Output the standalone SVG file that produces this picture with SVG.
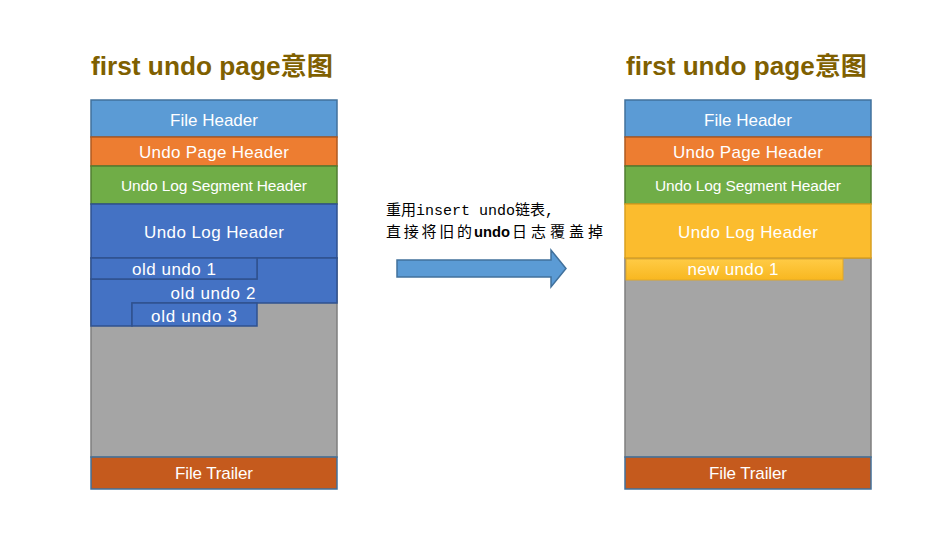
<svg xmlns="http://www.w3.org/2000/svg" width="927" height="545" viewBox="0 0 927 545">
<defs>
<style>
.t{font-family:"Liberation Sans","Noto Sans CJK SC",sans-serif;fill:#fff;text-anchor:middle;font-size:17px}
.title{font-family:"Liberation Sans","Noto Sans CJK SC",sans-serif;font-weight:bold;font-size:25px;fill:#7F6000}
.note{font-family:"Liberation Mono","Noto Sans CJK SC",monospace;font-size:15px;fill:#000}
.fh{fill:#5B9BD5;stroke:#41719C;stroke-width:1.5}
.ph{fill:#ED7D31;stroke:#AE5A21;stroke-width:1.5}
.sh{fill:#70AD47;stroke:#507E32;stroke-width:1.5}
.lh{fill:#4472C4;stroke:#2F528F;stroke-width:1.5}
.yh{fill:#FBBC2E;stroke:#D9A020;stroke-width:1.5}
.gr{fill:#A5A5A5;stroke:#7F7F7F;stroke-width:1.5}
.ft{fill:#C55A1D;stroke:#41719C;stroke-width:1.5}
</style>
<linearGradient id="ng" x1="0" y1="0" x2="0" y2="1">
<stop offset="0" stop-color="#FFCB45"/>
<stop offset="1" stop-color="#F8B720"/>
</linearGradient>
</defs>
<rect width="927" height="545" fill="#fff"/>

<g id="title-left"><text class="title" x="91" y="75" textLength="242" lengthAdjust="spacingAndGlyphs">first undo page意图</text></g>
<g id="title-right"><text class="title" x="626" y="75" textLength="241" lengthAdjust="spacingAndGlyphs">first undo page意图</text></g>

<g id="left-page">
<g id="l-gray"><rect class="gr" x="91" y="258" width="246" height="199"/></g>
<g id="l-file-header"><rect class="fh" x="91" y="100" width="246" height="37"/><text class="t" x="214" y="126">File Header</text></g>
<g id="l-page-header"><rect class="ph" x="91" y="137" width="246" height="29"/><text class="t" x="214" y="158" textLength="150">Undo Page Header</text></g>
<g id="l-seg-header"><rect class="sh" x="91" y="166" width="246" height="38"/><text class="t" x="214" y="191" style="font-size:15.5px" textLength="186">Undo Log Segment Header</text></g>
<g id="l-log-header"><rect class="lh" x="91" y="204" width="246" height="54"/><text class="t" x="214" y="238" textLength="140">Undo Log Header</text></g>
<g id="l-old-undo-2"><path class="lh" d="M91,279 H257 V258 H337 V303 H132 V326 H91 Z"/><text class="t" x="213" y="299" textLength="85">old undo 2</text></g>
<g id="l-old-undo-1"><rect class="lh" x="91" y="258" width="166" height="21"/><text class="t" x="174" y="275" textLength="84">old undo 1</text></g>
<g id="l-old-undo-3"><rect class="lh" x="132" y="303" width="125" height="23"/><text class="t" x="194" y="322" textLength="86">old undo 3</text></g>
<g id="l-file-trailer"><rect class="ft" x="91" y="457" width="246" height="32"/><text class="t" x="214" y="479" textLength="78">File Trailer</text></g>
</g>

<g id="right-page">
<g id="r-gray"><rect class="gr" x="625" y="258" width="246" height="199"/></g>
<g id="r-file-header"><rect class="fh" x="625" y="100" width="246" height="37"/><text class="t" x="748" y="126">File Header</text></g>
<g id="r-page-header"><rect class="ph" x="625" y="137" width="246" height="29"/><text class="t" x="748" y="158" textLength="150">Undo Page Header</text></g>
<g id="r-seg-header"><rect class="sh" x="625" y="166" width="246" height="38"/><text class="t" x="748" y="191" style="font-size:15.5px" textLength="186">Undo Log Segment Header</text></g>
<g id="r-log-header"><rect class="yh" x="625" y="204" width="246" height="54"/><text class="t" x="748" y="238" textLength="140">Undo Log Header</text></g>
<g id="r-new-undo-1"><rect x="626" y="259" width="217" height="21" fill="url(#ng)" stroke="#E0A82A" stroke-width="1"/><text class="t" x="733" y="275" textLength="91">new undo 1</text></g>
<g id="r-file-trailer"><rect class="ft" x="625" y="457" width="246" height="32"/><text class="t" x="748" y="479" textLength="78">File Trailer</text></g>
</g>

<g id="note">
<text class="note" x="386" y="215" textLength="168" lengthAdjust="spacing">重用insert undo链表,</text>
<text class="note" x="386" y="237" textLength="86" lengthAdjust="spacing">直接将旧的</text>
<text class="note" x="474" y="237" style="font-family:'Liberation Sans',sans-serif;font-weight:bold" textLength="36" lengthAdjust="spacingAndGlyphs">undo</text>
<text class="note" x="512" y="237" textLength="91" lengthAdjust="spacing">日志覆盖掉</text>
</g>

<g id="connectors">
<path d="M397,260 H551 V250 L566,268.5 L551,287 V277 H397 Z" fill="#5B9BD5" stroke="#41719C" stroke-width="1.5"/>
</g>
</svg>
